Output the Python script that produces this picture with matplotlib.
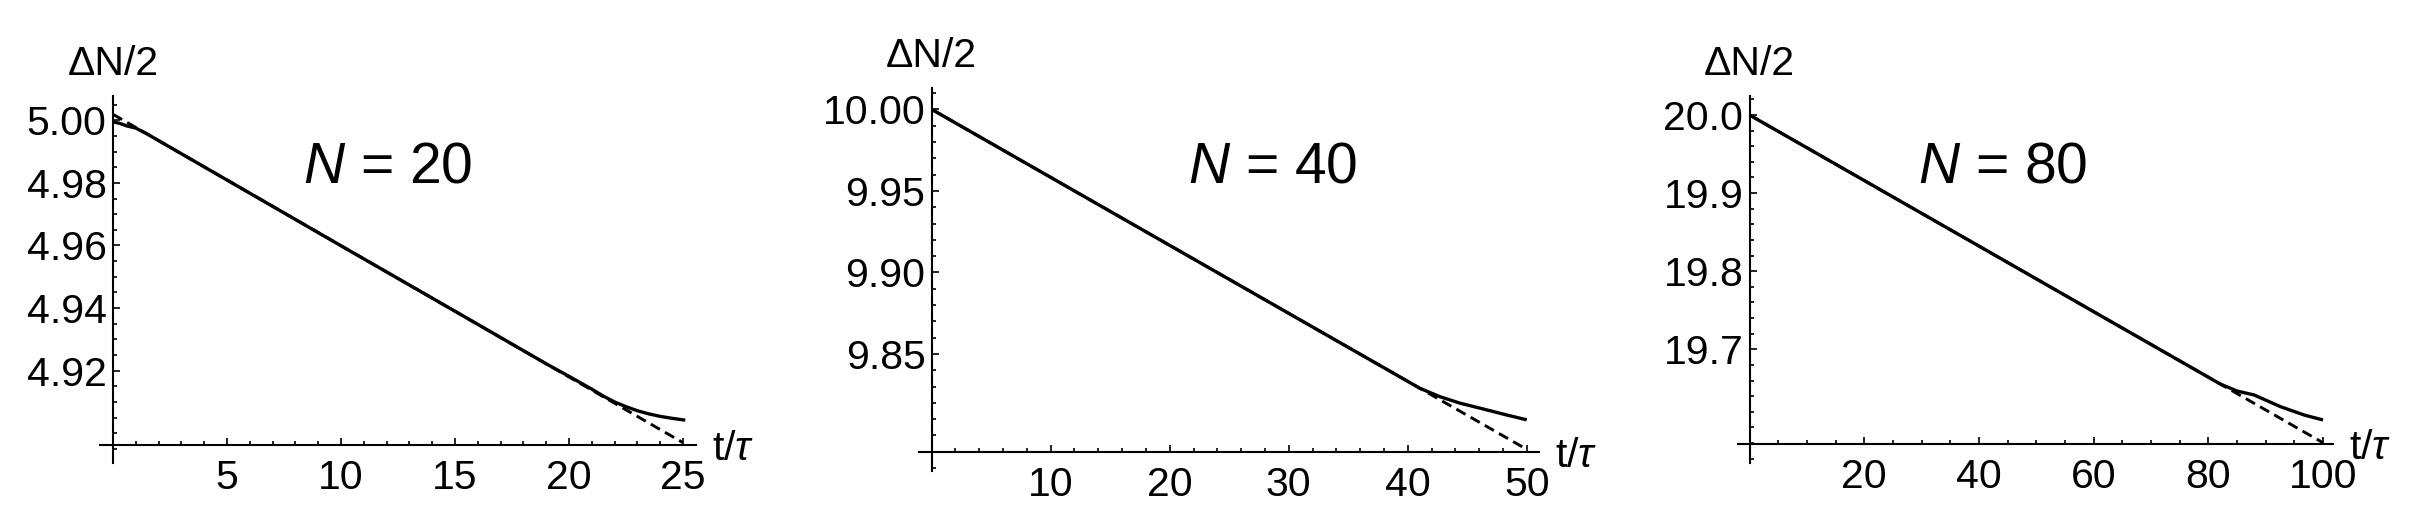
import matplotlib
matplotlib.use("Agg")
import matplotlib.pyplot as plt
from matplotlib.ticker import FixedLocator, MultipleLocator, FormatStrFormatter
import matplotlib.transforms as mtransforms

plt.rcParams['font.family'] = ['Liberation Sans', 'DejaVu Sans']
plt.rcParams['mathtext.fontset'] = 'custom'
plt.rcParams['mathtext.rm'] = 'Liberation Sans'
plt.rcParams['mathtext.it'] = 'Liberation Sans:italic'

# ---------------- data ----------------
# N = 20
t20_solid = [0, 0.3, 0.6, 1.0, 1.5, 5, 10, 15, 19, 20, 21, 21.5, 22, 22.5, 23, 23.5, 24, 24.5, 25.1]
y20_solid = [4.9995, 4.9990, 4.9982, 4.9975, 4.9956, 4.9809, 4.9599, 4.9390, 4.9222, 4.9182,
             4.9141, 4.9119, 4.9100, 4.9085, 4.9072, 4.9062, 4.9054, 4.9048, 4.9042]
t20_dash = [0, 25]
y20_dash = [5.0019, 4.8970]

# N = 40
t40_solid = [0, 10, 20, 30, 40, 41, 42.7, 44.4, 46.1, 48.3, 50]
y40_solid = [10.000, 9.9583, 9.9166, 9.8749, 9.8332, 9.8290, 9.8238, 9.8198, 9.8167, 9.8126, 9.8096]
t40_dash = [0, 50]
y40_dash = [10.000, 9.7915]

# N = 80
t80_solid = [0, 20, 40, 60, 80, 82.1, 85, 88.0, 92.6, 96.7, 100]
y80_solid = [20.000, 19.9161, 19.8322, 19.7482, 19.6643, 19.6555, 19.6466, 19.6415, 19.6265, 19.6159, 19.6095]
t80_dash = [0, 100]
y80_dash = [20.000, 19.5804]

# ticks
x20_major = [5, 10, 15, 20, 25]
y20_major = [4.92, 4.94, 4.96, 4.98, 5.00]
x40_major = [10, 20, 30, 40, 50]
y40_major = [9.85, 9.90, 9.95, 10.00]
x80_major = [20, 40, 60, 80, 100]
y80_major = [19.7, 19.8, 19.9, 20.0]

labels = ["$N$ = 20", "$N$ = 40", "$N$ = 80"]

# ---------------- layout ----------------
W, H = 2412, 516
fig = plt.figure(figsize=(W / 100, H / 100), dpi=100)


def rect(l, r, t, b):
    return [l / W, (H - b) / H, (r - l) / W, (b - t) / H]


panels = [
    dict(rect=rect(100, 696, 96, 462.7), xlim=(-0.57, 25.57), ylim=(4.8906, 5.00775), yorig=4.8963,
         ts=t20_solid, ys=y20_solid, td=t20_dash, yd=y20_dash,
         xmaj=x20_major, ymaj=y20_major, xmin=1, ymin=0.005, fmt='%.2f',
         lab=labels[0], labpos=(0.483, 0.763)),
    dict(rect=rect(919.3, 1539, 88, 470.7), xlim=(-1.04, 51.03), ylim=(9.7784, 10.0131), yorig=9.7901,
         ts=t40_solid, ys=y40_solid, td=t40_dash, yd=y40_dash,
         xmaj=x40_major, ymaj=y40_major, xmin=2, ymin=0.01, fmt='%.2f',
         lab=labels[1], labpos=(0.571, 0.752)),
    dict(rect=rect(1737.7, 2333.3, 96, 462.7), xlim=(-2.06, 101.8), ylim=(19.5548, 20.0243), yorig=19.5784,
         ts=t80_solid, ys=y80_solid, td=t80_dash, yd=y80_dash,
         xmaj=x80_major, ymaj=y80_major, xmin=5, ymin=0.02, fmt='%.1f',
         lab=labels[2], labpos=(0.445, 0.763)),
]

FS = 29.5
for p in panels:
    ax = fig.add_axes(p['rect'])
    ax.set_xlim(*p['xlim'])
    ax.set_ylim(*p['ylim'])
    ax.patch.set_visible(False)
    ax.plot(p['td'], p['yd'], color='black', lw=2.1, ls=(0, (3.6, 2.0)))
    ax.plot(p['ts'], p['ys'], color='black', lw=2.4, solid_capstyle='butt')

    for s in ['top', 'right']:
        ax.spines[s].set_visible(False)
    ax.spines['left'].set_position(('data', 0))
    ax.spines['bottom'].set_position(('data', p['yorig']))
    ax.spines['left'].set_linewidth(1.5)
    ax.spines['bottom'].set_linewidth(1.5)

    ax.xaxis.set_major_locator(FixedLocator(p['xmaj']))
    ax.xaxis.set_minor_locator(MultipleLocator(p['xmin']))
    ax.yaxis.set_major_locator(FixedLocator(p['ymaj']))
    ax.yaxis.set_minor_locator(MultipleLocator(p['ymin']))
    ax.yaxis.set_major_formatter(FormatStrFormatter(p['fmt']))
    ax.xaxis.set_major_formatter(FormatStrFormatter('%d'))

    ax.tick_params(which='major', direction='in', length=5, width=1.2, labelsize=FS)
    ax.tick_params(which='minor', direction='in', length=3, width=1.2)
    ax.tick_params(axis='x', which='major', pad=10.0)
    ax.tick_params(axis='y', which='major', pad=4.5)

    # axis labels
    trans_y = mtransforms.blended_transform_factory(ax.transData, ax.transAxes)
    ax.annotate("ΔN/2", xy=(0, 1), xycoords=trans_y, xytext=(0, 15), textcoords='offset points',
                ha='center', va='baseline', fontsize=FS)
    trans_x = mtransforms.blended_transform_factory(ax.transAxes, ax.transData)
    ax.annotate(r"t/$\tau$", xy=(1, p['yorig']), xycoords=trans_x, xytext=(11.5, -10.8),
                textcoords='offset points', ha='left', va='baseline', fontsize=FS)

    ax.text(p['labpos'][0], p['labpos'][1], p['lab'], transform=ax.transAxes,
            ha='center', va='baseline', fontsize=41)

fig.savefig("out.png", dpi=100)
